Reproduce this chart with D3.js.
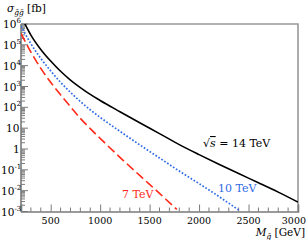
<!DOCTYPE html>
<html>
<head>
<meta charset="utf-8">
<script src="https://cdn.jsdelivr.net/npm/d3@7"></script>
<style>
  body { margin: 0; background: #fff; }
  svg { display: block; }
</style>
</head>
<body>
<svg id="chart" width="308" height="240" font-family="DejaVu Serif, serif"></svg>
<script>
// DATA (sigma in fb)

const mass14 = [240, 300, 400, 500, 600, 700, 800, 900, 1000, 1200, 1400, 1600, 1800, 2000, 2200, 2400, 2600, 2800, 3000]
const logSigma14 = [6.0, 5.47, 4.78, 4.22, 3.73, 3.31, 2.95, 2.62, 2.33, 1.79, 1.26, 0.74, 0.21, -0.27, -0.73, -1.18, -1.62, -2.07, -2.55]

const mass10 = [200, 300, 400, 500, 600, 700, 800, 900, 1000, 1200, 1400, 1600, 1800, 2000, 2200, 2400]
const logSigma10 = [5.9, 5.05, 4.35, 3.75, 3.2, 2.72, 2.28, 1.88, 1.52, 0.85, 0.2, -0.43, -1.06, -1.66, -2.28, -2.93]

const mass7 = [200, 300, 400, 500, 600, 700, 800, 900, 1000, 1200, 1400, 1600, 1775]
const logSigma7 = [5.55, 4.65, 3.87, 3.2, 2.6, 2.03, 1.47, 0.98, 0.51, -0.40, -1.27, -2.13, -2.9]

const xTicks = [500, 1000, 1500, 2000, 2500, 3000]
const yDecades = [-3, -2, -1, 0, 1, 2, 3, 4, 5, 6]

// SVG, SCALES

const svg = d3.select('#chart')
const margin = { top: 24, right: 10, bottom: 28.5, left: 21 }
const width = 308, height = 240

const x = d3.scaleLinear()
    .domain([200, 3000])
    .range([margin.left, width - margin.right])

const y = d3.scaleLog()
    .domain([1e-3, 1e6])
    .range([height - margin.bottom, margin.top])

const axisColor = '#7a7a7a'

// frame (top and right)
svg.append('path')
    .attr('d', `M${x(200)},${y(1e6)}H${x(3000)}V${y(1e-3)}`)
    .attr('fill', 'none')
    .attr('stroke', '#999')
    .attr('stroke-width', 1.6)

// x axis, ticks pointing inside
const xMinor = d3.range(300, 3000, 100).filter(d => d % 500 !== 0)
const xAxis = svg.append('g')
    .attr('transform', `translate(0, ${y(1e-3)})`)
    .call(d3.axisTop(x).tickValues(xTicks).tickSize(7).tickFormat(''))
xAxis.select('.domain').attr('stroke', axisColor).attr('stroke-width', 1.6)
xAxis.selectAll('.tick line').attr('stroke', axisColor)

svg.append('g')
    .selectAll('line')
    .data(xMinor)
    .join('line')
    .attr('x1', d => x(d)).attr('x2', d => x(d))
    .attr('y1', y(1e-3)).attr('y2', y(1e-3) - 4)
    .attr('stroke', axisColor)

// last label would run off the edge, so it is pinned to the right side
svg.append('g')
    .selectAll('text')
    .data(xTicks)
    .join('text')
    .attr('x', d => d === 3000 ? width - 2 : x(d))
    .attr('y', y(1e-3) + 12)
    .attr('text-anchor', d => d === 3000 ? 'end' : 'middle')
    .attr('font-size', 9.5)
    .text(d => d)

// y axis, log ticks pointing inside
const yMinor = []
for (const e of yDecades.slice(0, -1)) {
    for (let k = 2; k < 10; k++) yMinor.push(k * Math.pow(10, e))
}

svg.append('line')
    .attr('x1', x(200)).attr('x2', x(200))
    .attr('y1', y(1e-3)).attr('y2', y(1e6))
    .attr('stroke', axisColor)
    .attr('stroke-width', 1.6)

svg.append('g')
    .selectAll('line')
    .data(yDecades)
    .join('line')
    .attr('x1', x(200)).attr('x2', x(200) + 7)
    .attr('y1', d => y(Math.pow(10, d))).attr('y2', d => y(Math.pow(10, d)))
    .attr('stroke', axisColor)

svg.append('g')
    .selectAll('line')
    .data(yMinor)
    .join('line')
    .attr('x1', x(200)).attr('x2', x(200) + 4)
    .attr('y1', d => y(d)).attr('y2', d => y(d))
    .attr('stroke', axisColor)

const yLabels = svg.append('g')
    .selectAll('text')
    .data(yDecades)
    .join('text')
    .attr('y', d => y(Math.pow(10, d)) + 4)
    .attr('font-size', 10.5)

yLabels.each(function(d) {
    const t = d3.select(this)
    if (d === 0) { t.attr('x', 13).text('1'); return }
    t.attr('x', d < 0 ? 1 : (d === 1 ? 6 : 3))
    t.append('tspan').text('10')
    if (d !== 1) {
        t.append('tspan').attr('font-size', 7).attr('dy', -5).text(d < 0 ? '-' + (-d) : d)
    }
})

// CURVES

svg.append('defs').append('clipPath')
    .attr('id', 'plot-clip')
    .append('rect')
    .attr('x', x(200)).attr('y', y(1e6))
    .attr('width', x(3000) - x(200))
    .attr('height', y(1e-3) - y(1e6))

const line = d3.line()
    .x(d => x(d[0]))
    .y(d => y(Math.pow(10, d[1])))
    .curve(d3.curveMonotoneX)

const curves = svg.append('g').attr('clip-path', 'url(#plot-clip)')

curves.append('path')
    .datum(d3.zip(mass7, logSigma7))
    .attr('d', line)
    .attr('fill', 'none')
    .attr('stroke', '#ff2a1a')
    .attr('stroke-width', 1.6)
    .attr('stroke-dasharray', '9,4')

curves.append('path')
    .datum(d3.zip(mass10, logSigma10))
    .attr('d', line)
    .attr('fill', 'none')
    .attr('stroke', '#2f6be6')
    .attr('stroke-width', 1.7)
    .attr('stroke-dasharray', '1.7,1.8')

curves.append('path')
    .datum(d3.zip(mass14, logSigma14))
    .attr('d', line)
    .attr('fill', 'none')
    .attr('stroke', '#000')
    .attr('stroke-width', 1.6)

// LABELS

const t14 = svg.append('text')
    .attr('x', 203).attr('y', 147)
    .attr('font-size', 11)
t14.append('tspan').text('√')
t14.append('tspan').attr('font-style', 'italic').attr('text-decoration', 'overline').text('s')
t14.append('tspan').text(' = 14 TeV')

svg.append('text')
    .attr('x', 218).attr('y', 192)
    .attr('font-size', 11)
    .attr('fill', '#2f6be6')
    .text('10 TeV')

svg.append('text')
    .attr('x', 122).attr('y', 198)
    .attr('font-size', 11)
    .attr('fill', '#ff2a1a')
    .text('7 TeV')

const yTitle = svg.append('text')
    .attr('x', 7).attr('y', 12)
    .attr('font-size', 10.5)
yTitle.append('tspan').attr('font-style', 'italic').text('σ')
yTitle.append('tspan').attr('font-style', 'italic').attr('font-size', 7.5).attr('dy', 3).text('g\u0303g\u0303')
yTitle.append('tspan').attr('dy', -3).text(' [fb]')

const xTitle = svg.append('text')
    .attr('x', 305).attr('y', 236)
    .attr('text-anchor', 'end')
    .attr('font-size', 10.5)
xTitle.append('tspan').attr('font-style', 'italic').text('M')
xTitle.append('tspan').attr('font-style', 'italic').attr('font-size', 7.5).attr('dy', 3).text('g\u0303')
xTitle.append('tspan').attr('dy', -3).text(' [GeV]')
</script>
</body>
</html>
